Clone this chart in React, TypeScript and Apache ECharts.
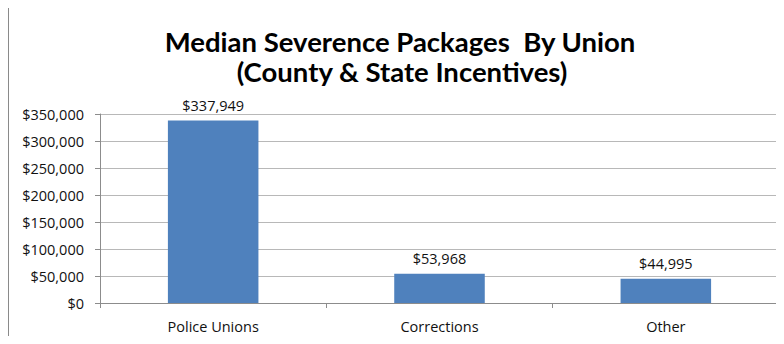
import React, { useEffect, useRef } from "react";
import * as echarts from "echarts";

const titleLines = ["Median Severence Packages  By Union", "(County & State Incentives)"];
const categories = ["Police Unions", "Corrections", "Other"];
const values = [337949, 53968, 44995];
const yMin = 0;
const yMax = 350000;
const yInterval = 50000;

const fmt = (v: number) => "$" + Math.round(v).toLocaleString("en-US");

export default function App() {
  const ref = useRef<HTMLDivElement>(null);
  useEffect(() => {
    if (!ref.current) return;
    const chart = echarts.init(ref.current, undefined, { renderer: "svg" });
    const font = "Open Sans";
    chart.setOption({
      animation: false,
      backgroundColor: "#ffffff",
      textStyle: { fontFamily: font },
      graphic: [
        {
          type: "polyline",
          shape: { points: [[8, 344], [8, 7], [784, 7]] },
          style: { fill: null, stroke: "#8a8a8a", lineWidth: 2 },
          silent: true,
          z: 100,
        },
        {
          type: "text",
          x: 400,
          y: 41,
          style: {
            text: titleLines[0],
            font: "bold 27.5px Lato",
            fill: "#000",
            align: "center",
            verticalAlign: "middle",
          },
        },
        {
          type: "text",
          x: 402,
          y: 71,
          style: {
            text: titleLines[1],
            font: "bold 27.5px Lato",
            fill: "#000",
            align: "center",
            verticalAlign: "middle",
          },
        },
      ],
      grid: { left: 100, right: 5, top: 114, bottom: 41, containLabel: false },
      xAxis: {
        type: "category",
        data: categories,
        axisLine: { show: true, lineStyle: { color: "#8c8c8c", width: 1 } },
        axisTick: { show: true, alignWithLabel: false, length: 5, lineStyle: { color: "#8c8c8c" } },
        axisLabel: { color: "#111", fontSize: 14.5, margin: 16, fontFamily: font },
      },
      yAxis: {
        type: "value",
        min: yMin,
        max: yMax,
        interval: yInterval,
        axisLine: { show: true, lineStyle: { color: "#8c8c8c", width: 1 } },
        axisTick: { show: true, length: 5, lineStyle: { color: "#8c8c8c" } },
        axisLabel: {
          color: "#111",
          fontSize: 14.5,
          margin: 16,
          fontFamily: font,
          formatter: (v: number) => fmt(v),
        },
        splitLine: { show: true, lineStyle: { color: "#b8b8b8", width: 1 } },
      },
      series: [
        {
          type: "bar",
          data: values,
          barWidth: "40%",
          itemStyle: { color: "#4f81bd" },
          label: {
            show: true,
            position: "top",
            distance: 8,
            color: "#111",
            fontSize: 14.5,
            fontFamily: font,
            formatter: (p: any) => fmt(p.value),
          },
        },
      ],
    });
    return () => chart.dispose();
  }, []);
  return <div ref={ref} style={{ width: 784, height: 344, margin: -8 }} />;
}
